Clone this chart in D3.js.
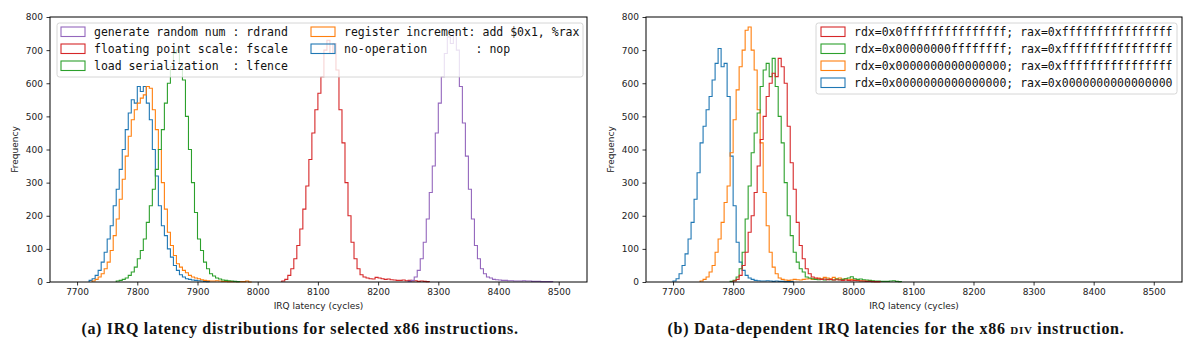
<!DOCTYPE html>
<html lang="en">
<head>
<meta charset="utf-8">
<title>IRQ latency histograms</title>
<script src="https://d3js.org/d3.v7.min.js"></script>
<style>
  html, body { margin: 0; padding: 0; background: #fff; }
  svg { display: block; }
  .tick text { font-family: "DejaVu Sans", sans-serif; font-size: 9px; fill: #222; }
  .legend text { font-family: "DejaVu Sans Mono", monospace; font-size: 11.5px; fill: #111; }
  .caption { font-family: "Liberation Serif", serif; font-weight: bold; font-size: 16px; letter-spacing: 0.7px; fill: #111; }
</style>
</head>
<body>
<div id="chart"></div>
<script>
// Histogram bin width (cycles)
const binWidth = 5;

// (a) selected x86 instructions -- plotted order: nop, add, lfence, fscale, rdrand
const leftLabels = [
  "no-operation       : nop",
  "register increment: add $0x1, %rax",
  "load serialization  : lfence",
  "floating point scale: fscale",
  "generate random num : rdrand"
];
const leftStarts = [7720, 7725, 7765, 8040, 8250];
const nopCounts = [5, 10, 20, 35, 60, 90, 130, 170, 230, 280, 340, 400, 460, 510, 550, 540, 590, 575, 590, 540,
  490, 400, 320, 230, 170, 140, 100, 75, 50, 35, 22, 15, 10, 8, 6, 5, 4, 3, 2, 1];
const addCounts = [3, 8, 15, 25, 40, 60, 95, 140, 190, 250, 310, 380, 440, 490, 520, 540, 555, 565, 590, 585,
  520, 460, 400, 300, 220, 150, 110, 80, 55, 45, 35, 28, 20, 15, 12, 10, 7, 5, 4, 3, 3, 4, 3, 2, 2, 1, 1, 1, 1, 1, 1, 3, 0];
const lfenceCounts = [3, 5, 8, 12, 20, 30, 45, 70, 95, 130, 180, 230, 280, 340, 400, 460, 540, 600, 650, 690,
  700, 660, 610, 500, 400, 300, 210, 130, 95, 60, 40, 25, 18, 12, 9, 6, 5, 4, 3, 2, 1];
const fscaleCounts = [3, 8, 20, 40, 70, 110, 160, 220, 290, 370, 450, 520, 570, 620, 700, 730, 690, 720, 640, 520,
  420, 300, 200, 120, 70, 40, 22, 15, 12, 10, 9, 14, 12, 10, 8, 9, 7, 6, 5, 5, 6, 4, 5, 3, 4, 2, 3, 2, 1];
const rdrandCounts = [2, 5, 15, 35, 70, 120, 190, 270, 350, 450, 540, 620, 690, 740, 720, 750, 700, 590, 480, 380,
  280, 190, 110, 70, 40, 25, 15, 12, 8, 7, 6, 5, 5, 4, 4, 3, 3, 3, 4, 3, 3, 2, 2, 2, 1, 1, 1, 1];
const leftCounts = [nopCounts, addCounts, lfenceCounts, fscaleCounts, rdrandCounts];
const leftColors = ["#1f77b4", "#ff7f0e", "#2ca02c", "#d62728", "#9467bd"];

// (b) DIV operands -- plotted order: zero/zero, zero/ffff, 32-bit/ffff, 60-bit/ffff
const rightLabels = [
  "rdx=0x0000000000000000; rax=0x0000000000000000",
  "rdx=0x0000000000000000; rax=0xffffffffffffffff",
  "rdx=0x00000000ffffffff; rax=0xffffffffffffffff",
  "rdx=0x0fffffffffffffff; rax=0xffffffffffffffff"
];
const rightStarts = [7700, 7745, 7795, 7800];
const divZeroZero = [3, 10, 25, 50, 85, 130, 180, 250, 330, 420, 470, 520, 560, 610, 660, 705, 650, 660, 560, 380,
  230, 120, 60, 35, 20, 12, 8, 5, 4, 3, 3, 4, 3, 2, 3, 2, 2, 1, 1, 1];
const divZeroFull = [3, 8, 15, 30, 50, 90, 130, 180, 240, 290, 390, 490, 580, 650, 700, 760, 770, 700, 640, 520,
  420, 270, 170, 90, 45, 25, 12, 8, 6, 5, 6, 8, 7, 6, 8, 9, 10, 8, 10, 12, 10, 14, 12, 10, 14, 10, 12, 8, 10, 7,
  8, 6, 5, 4, 3, 3, 2, 2, 1, 1];
const divHalfFull = [2, 5, 15, 40, 90, 190, 290, 390, 450, 510, 590, 640, 660, 620, 675, 590, 500, 420, 300, 200,
  140, 90, 60, 40, 30, 15, 12, 10, 8, 7, 8, 6, 8, 7, 6, 9, 7, 8, 10, 12, 16, 10, 8, 9, 7, 6, 5, 4, 3, 3,
  2, 2, 2, 3, 4, 2, 1];
const divHighFull = [3, 8, 20, 50, 90, 150, 200, 270, 350, 430, 500, 560, 600, 630, 620, 675, 650, 600, 470, 360,
  280, 180, 110, 70, 40, 25, 15, 12, 10, 8, 9, 7, 8, 6, 7, 6, 5, 6, 5, 4, 5, 4, 3, 3, 2, 2, 1, 1, 1];
const rightCounts = [divZeroZero, divZeroFull, divHalfFull, divHighFull];
const rightColors = ["#1f77b4", "#ff7f0e", "#2ca02c", "#d62728"];

const xTicks = [7700, 7800, 7900, 8000, 8100, 8200, 8300, 8400, 8500];
const yTicks = [0, 100, 200, 300, 400, 500, 600, 700, 800];
const captions = [
  ["(a) IRQ latency distributions for selected x86 instructions."],
  ["(b) Data-dependent IRQ latencies for the x86 ", "div", " instruction."]
];

// Layout
const width = 1200, height = 352;
const svg = d3.select("#chart").append("svg")
  .attr("width", width)
  .attr("height", height)
  .style("background", "#fff");

function drawPanel(opts) {
  const { left, right, starts, counts, colors, labels, legend, caption } = opts;
  const top = 17, bottom = 282;

  const x = d3.scaleLinear().domain([7655, 8547]).range([left, right]);
  const y = d3.scaleLinear().domain([0, 800]).range([bottom, top]);

  const g = svg.append("g");

  // histograms (step outlines)
  const line = d3.line()
    .x(d => x(d[0]))
    .y(d => y(d[1]))
    .curve(d3.curveStepAfter);

  counts.forEach((c, i) => {
    const s = starts[i];
    const pts = [[s, 0]];
    c.forEach((v, j) => pts.push([s + j * binWidth, v]));
    const end = s + c.length * binWidth;
    pts.push([end, c[c.length - 1]]);
    pts.push([end, 0]);
    g.append("path")
      .attr("d", line(pts))
      .attr("fill", "none")
      .attr("stroke", colors[i])
      .attr("stroke-width", 1.1)
      .attr("stroke-linejoin", "miter");
  });

  // axes
  g.append("g")
    .attr("transform", `translate(0,${bottom})`)
    .call(d3.axisBottom(x).tickValues(xTicks).tickSize(3.5).tickPadding(3.5).tickFormat(d3.format("d")))
    .call(a => a.select(".domain").remove())
    .call(a => a.selectAll("line").attr("stroke", "#000").attr("stroke-width", 0.8));

  g.append("g")
    .attr("transform", `translate(${left},0)`)
    .call(d3.axisLeft(y).tickValues(yTicks).tickSize(3.5).tickPadding(3.5))
    .call(a => a.select(".domain").remove())
    .call(a => a.selectAll("line").attr("stroke", "#000").attr("stroke-width", 0.8));

  g.append("rect")
    .attr("x", left).attr("y", top)
    .attr("width", right - left).attr("height", bottom - top)
    .attr("fill", "none").attr("stroke", "#000").attr("stroke-width", 1);

  // axis labels
  g.append("text")
    .attr("x", (left + right) / 2).attr("y", 309)
    .attr("text-anchor", "middle")
    .attr("font-family", "DejaVu Sans, sans-serif").attr("font-size", 9).attr("fill", "#222")
    .text("IRQ latency (cycles)");

  g.append("text")
    .attr("transform", `translate(${left - 32},${(top + bottom) / 2}) rotate(-90)`)
    .attr("text-anchor", "middle")
    .attr("font-family", "DejaVu Sans, sans-serif").attr("font-size", 9).attr("fill", "#222")
    .text("Frequency");

  // legend
  const lg = g.append("g").attr("class", "legend");
  lg.append("rect")
    .attr("x", legend.x).attr("y", legend.y)
    .attr("width", legend.w).attr("height", legend.h)
    .attr("rx", 2.5)
    .attr("fill", "#fff").attr("fill-opacity", 0.8)
    .attr("stroke", "#ccc").attr("stroke-width", 0.8);

  legend.items.forEach(it => {
    const i = it.index;
    lg.append("rect")
      .attr("x", it.x).attr("y", it.y - 5)
      .attr("width", 24).attr("height", 9.5)
      .attr("fill", "none")
      .attr("stroke", colors[i]).attr("stroke-width", 1.1);
    lg.append("text")
      .attr("x", it.x + 33).attr("y", it.y + 4)
      .attr("xml:space", "preserve")
      .text(labels[i]);
  });

  // caption
  const cap = g.append("text")
    .attr("class", "caption")
    .attr("x", opts.captionX).attr("y", 334)
    .attr("text-anchor", "middle");
  caption.forEach((part, k) => {
    const t = cap.append("tspan").text(part);
    if (k === 1) t.style("font-variant", "small-caps").style("font-weight", "bold");
  });
}

// (a)
drawPanel({
  left: 50, right: 587,
  starts: leftStarts, counts: leftCounts, colors: leftColors, labels: leftLabels,
  legend: {
    x: 57, y: 23, w: 526, h: 54,
    items: [
      { index: 4, x: 61, y: 32 },
      { index: 3, x: 61, y: 49 },
      { index: 2, x: 61, y: 66 },
      { index: 1, x: 311, y: 32 },
      { index: 0, x: 311, y: 49 }
    ]
  },
  caption: captions[0], captionX: 300
});

// (b)
drawPanel({
  left: 646, right: 1182,
  starts: rightStarts, counts: rightCounts, colors: rightColors, labels: rightLabels,
  legend: {
    x: 816, y: 23, w: 361, h: 71,
    items: [
      { index: 3, x: 821, y: 32 },
      { index: 2, x: 821, y: 49 },
      { index: 1, x: 821, y: 66 },
      { index: 0, x: 821, y: 83 }
    ]
  },
  caption: captions[1], captionX: 896
});
</script>
</body>
</html>
